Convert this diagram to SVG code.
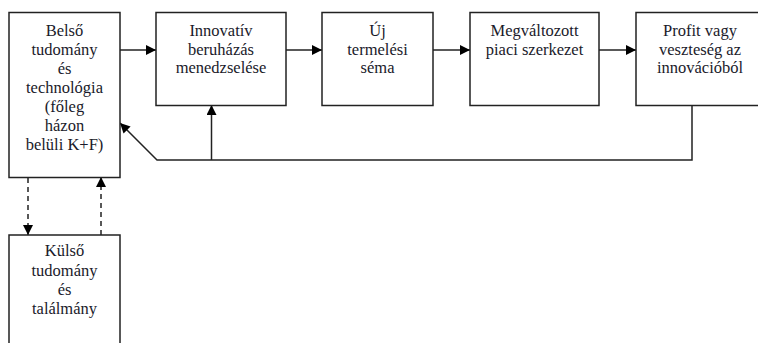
<svg xmlns="http://www.w3.org/2000/svg" width="758" height="343" viewBox="0 0 758 343">
<defs>
<style>
.box{fill:#fff;stroke:#222;stroke-width:1.5}
.t{font-family:"Liberation Serif","Times New Roman",serif;font-size:16.5px;fill:#1a1a2a;text-anchor:middle}
.ln{fill:none;stroke:#222;stroke-width:1.5}
.dash{fill:none;stroke:#222;stroke-width:1.5;stroke-dasharray:5,4}
</style>
<marker id="ah" viewBox="0 0 10 10" refX="10" refY="5" markerWidth="10" markerHeight="10" markerUnits="userSpaceOnUse" orient="auto">
<path d="M0,0 L10,5 L0,10 Z" fill="#000"/>
</marker>
</defs>
<rect width="758" height="343" fill="#fff"/>
<g id="connectors">
<line class="ln" x1="120" y1="50" x2="156" y2="50" marker-end="url(#ah)"/>
<line class="ln" x1="286" y1="50" x2="322" y2="50" marker-end="url(#ah)"/>
<line class="ln" x1="433" y1="50" x2="470" y2="50" marker-end="url(#ah)"/>
<line class="ln" x1="599" y1="50" x2="636" y2="50" marker-end="url(#ah)"/>
<polyline class="ln" points="692,105 692,160 157,160 120,123" marker-end="url(#ah)"/>
<line class="ln" x1="211.5" y1="160" x2="211.5" y2="105" marker-end="url(#ah)"/>
<line class="dash" x1="28" y1="178" x2="28" y2="235" marker-end="url(#ah)"/>
<line class="dash" x1="101" y1="235" x2="101" y2="177" marker-end="url(#ah)"/>
</g>
<g id="n1">
<rect class="box" x="9" y="12.5" width="111" height="165"/>
<text class="t"><tspan x="64.5" y="36">Belső</tspan><tspan x="64.5" y="55">tudomány</tspan><tspan x="64.5" y="74">és</tspan><tspan x="64.5" y="93">technológia</tspan><tspan x="64.5" y="112">(főleg</tspan><tspan x="64.5" y="131">házon</tspan><tspan x="64.5" y="150">belüli K+F)</tspan></text>
</g>
<g id="n2">
<rect class="box" x="156" y="12.5" width="130" height="93"/>
<text class="t"><tspan x="221" y="36">Innovatív</tspan><tspan x="221" y="54.5">beruházás</tspan><tspan x="221" y="73">menedzselése</tspan></text>
</g>
<g id="n3">
<rect class="box" x="322" y="12.5" width="111" height="93"/>
<text class="t"><tspan x="377.5" y="36">Új</tspan><tspan x="377.5" y="54.5">termelési</tspan><tspan x="377.5" y="73">séma</tspan></text>
</g>
<g id="n4">
<rect class="box" x="470" y="12.5" width="129" height="93"/>
<text class="t"><tspan x="534.5" y="36">Megváltozott</tspan><tspan x="534.5" y="54.5">piaci szerkezet</tspan></text>
</g>
<g id="n5">
<rect class="box" x="636" y="12.5" width="130" height="93"/>
<text class="t"><tspan x="700" y="36">Profit vagy</tspan><tspan x="700" y="54.5">veszteség az</tspan><tspan x="700" y="73">innovációból</tspan></text>
</g>
<g id="n6">
<rect class="box" x="9" y="235" width="111" height="120"/>
<text class="t"><tspan x="64.5" y="256">Külső</tspan><tspan x="64.5" y="276">tudomány</tspan><tspan x="64.5" y="295">és</tspan><tspan x="64.5" y="314">találmány</tspan></text>
</g>
</svg>
